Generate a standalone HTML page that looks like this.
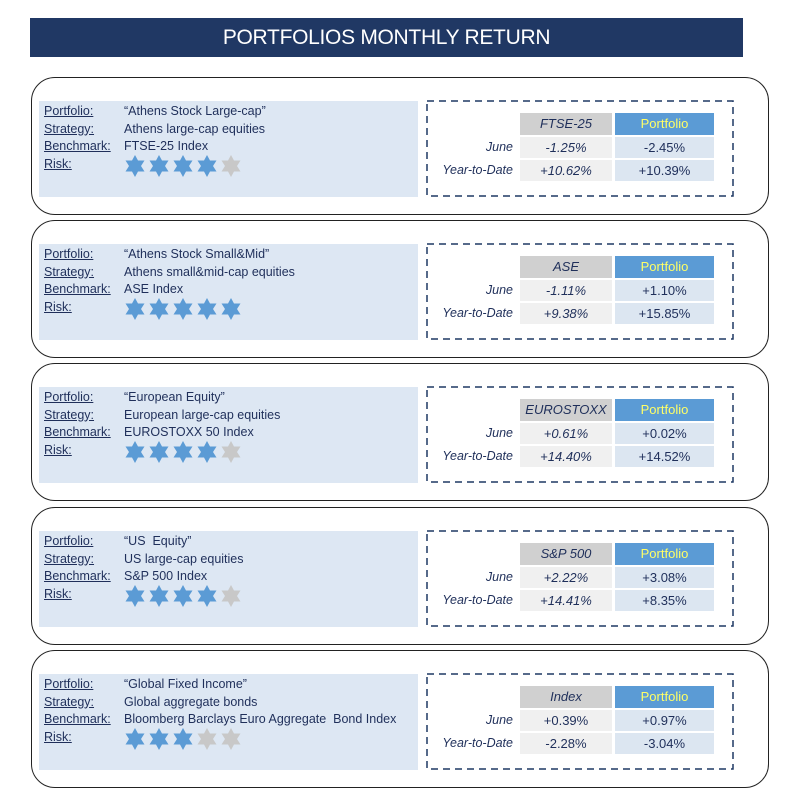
<!DOCTYPE html>
<html><head><meta charset="utf-8"><style>
body{margin:0;width:800px;height:812px;background:#fff;position:relative;font-family:"Liberation Sans",sans-serif;overflow:hidden}
.title{position:absolute;left:30px;top:18px;width:713px;height:39px;background:#203864;color:#fff;font-size:21px;text-align:center;line-height:40px;letter-spacing:-0.3px}
.w{position:absolute;left:0;width:800px;height:145px}
.box{position:absolute;left:31px;top:0;width:736px;height:136px;border:1.5px solid #222;border-radius:24px}
.left{position:absolute;left:39px;top:24px;width:379px;height:96px;background:#dde7f3}
.l{position:absolute;font-size:12.5px;color:#1f2f5a;line-height:17.5px}
.lab{left:5px;top:2px;text-decoration:underline}
.val{left:85px;top:2px}
.stars{position:absolute;left:85px;top:54px}
.dash{position:absolute;left:426px;top:23px}
.c{position:absolute;height:21px;line-height:21px;text-align:center;font-size:13px;color:#1f2f5a}
.r{left:400px;width:113px;text-align:right;font-style:italic;font-size:12.5px}
.a{left:520px;width:92px;background:#f0f0f0;font-style:italic}
.b{left:615px;width:99px;background:#dce6f1}
.h{top:36px;height:22px;line-height:22px}
.ha{background:#d0d0d0}
.hb{background:#5b9bd5;color:#ffff66}
.r1{top:60px}.r2{top:83px}
</style></head><body>
<div class="title">PORTFOLIOS MONTHLY RETURN</div>
<svg width="0" height="0" style="position:absolute"><defs>
<polygon id="st" points="11,0 14,5.5 20.5,5.5 17,11 20.5,16.5 14,16.5 11,22 8,16.5 1.5,16.5 5,11 1.5,5.5 8,5.5"/>
<rect id="dr" x="1" y="1" width="306" height="95" fill="none" stroke="#1f3864" stroke-width="1.5" stroke-dasharray="7,5"/></defs></svg>

<div class="w" style="top:77px"><div class="box"></div>
<div class="left"><div class="l lab">Portfolio:<br>Strategy:<br>Benchmark:<br>Risk:</div>
<div class="l val">“Athens Stock Large-cap”<br>Athens large-cap equities<br>FTSE-25 Index</div>
<div class="stars"><svg width="118" height="22"><use href="#st" x="0" fill="#5b9bd5"/><use href="#st" x="24" fill="#5b9bd5"/><use href="#st" x="48" fill="#5b9bd5"/><use href="#st" x="72" fill="#5b9bd5"/><use href="#st" x="96" fill="#c8c8c8"/></svg></div></div>
<svg class="dash" width="310" height="98"><use href="#dr"/></svg>
<div class="c a ha h">FTSE-25</div><div class="c b hb h">Portfolio</div>
<div class="c r r1">June</div><div class="c a r1">-1.25%</div><div class="c b r1">-2.45%</div>
<div class="c r r2">Year-to-Date</div><div class="c a r2">+10.62%</div><div class="c b r2">+10.39%</div>
</div>

<div class="w" style="top:220px"><div class="box"></div>
<div class="left"><div class="l lab">Portfolio:<br>Strategy:<br>Benchmark:<br>Risk:</div>
<div class="l val">“Athens Stock Small&amp;Mid”<br>Athens small&amp;mid-cap equities<br>ASE Index</div>
<div class="stars"><svg width="118" height="22"><use href="#st" x="0" fill="#5b9bd5"/><use href="#st" x="24" fill="#5b9bd5"/><use href="#st" x="48" fill="#5b9bd5"/><use href="#st" x="72" fill="#5b9bd5"/><use href="#st" x="96" fill="#5b9bd5"/></svg></div></div>
<svg class="dash" width="310" height="98"><use href="#dr"/></svg>
<div class="c a ha h">ASE</div><div class="c b hb h">Portfolio</div>
<div class="c r r1">June</div><div class="c a r1">-1.11%</div><div class="c b r1">+1.10%</div>
<div class="c r r2">Year-to-Date</div><div class="c a r2">+9.38%</div><div class="c b r2">+15.85%</div>
</div>

<div class="w" style="top:363px"><div class="box"></div>
<div class="left"><div class="l lab">Portfolio:<br>Strategy:<br>Benchmark:<br>Risk:</div>
<div class="l val">“European Equity”<br>European large-cap equities<br>EUROSTOXX 50 Index</div>
<div class="stars"><svg width="118" height="22"><use href="#st" x="0" fill="#5b9bd5"/><use href="#st" x="24" fill="#5b9bd5"/><use href="#st" x="48" fill="#5b9bd5"/><use href="#st" x="72" fill="#5b9bd5"/><use href="#st" x="96" fill="#c8c8c8"/></svg></div></div>
<svg class="dash" width="310" height="98"><use href="#dr"/></svg>
<div class="c a ha h">EUROSTOXX</div><div class="c b hb h">Portfolio</div>
<div class="c r r1">June</div><div class="c a r1">+0.61%</div><div class="c b r1">+0.02%</div>
<div class="c r r2">Year-to-Date</div><div class="c a r2">+14.40%</div><div class="c b r2">+14.52%</div>
</div>

<div class="w" style="top:507px"><div class="box"></div>
<div class="left"><div class="l lab">Portfolio:<br>Strategy:<br>Benchmark:<br>Risk:</div>
<div class="l val">“US&nbsp; Equity”<br>US large-cap equities<br>S&amp;P 500 Index</div>
<div class="stars"><svg width="118" height="22"><use href="#st" x="0" fill="#5b9bd5"/><use href="#st" x="24" fill="#5b9bd5"/><use href="#st" x="48" fill="#5b9bd5"/><use href="#st" x="72" fill="#5b9bd5"/><use href="#st" x="96" fill="#c8c8c8"/></svg></div></div>
<svg class="dash" width="310" height="98"><use href="#dr"/></svg>
<div class="c a ha h">S&amp;P 500</div><div class="c b hb h">Portfolio</div>
<div class="c r r1">June</div><div class="c a r1">+2.22%</div><div class="c b r1">+3.08%</div>
<div class="c r r2">Year-to-Date</div><div class="c a r2">+14.41%</div><div class="c b r2">+8.35%</div>
</div>

<div class="w" style="top:650px"><div class="box"></div>
<div class="left"><div class="l lab">Portfolio:<br>Strategy:<br>Benchmark:<br>Risk:</div>
<div class="l val">“Global Fixed Income”<br>Global aggregate bonds<br>Bloomberg Barclays Euro Aggregate&nbsp; Bond Index</div>
<div class="stars"><svg width="118" height="22"><use href="#st" x="0" fill="#5b9bd5"/><use href="#st" x="24" fill="#5b9bd5"/><use href="#st" x="48" fill="#5b9bd5"/><use href="#st" x="72" fill="#c8c8c8"/><use href="#st" x="96" fill="#c8c8c8"/></svg></div></div>
<svg class="dash" width="310" height="98"><use href="#dr"/></svg>
<div class="c a ha h">Index</div><div class="c b hb h">Portfolio</div>
<div class="c r r1">June</div><div class="c a r1" style="font-style:normal">+0.39%</div><div class="c b r1">+0.97%</div>
<div class="c r r2">Year-to-Date</div><div class="c a r2" style="font-style:normal">-2.28%</div><div class="c b r2">-3.04%</div>
</div>
</body></html>
